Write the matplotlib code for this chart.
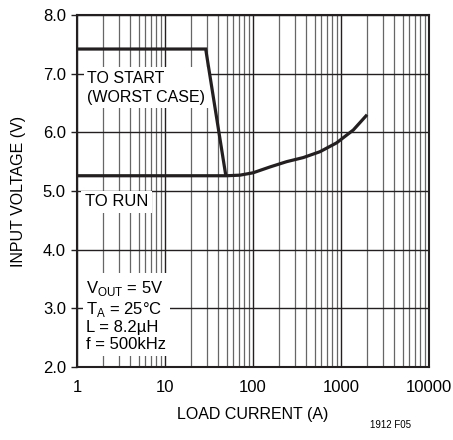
import matplotlib
matplotlib.use("Agg")
import matplotlib.pyplot as plt

plt.rcParams['font.family'] = ['Liberation Sans', 'DejaVu Sans']
plt.rcParams['mathtext.fontset'] = 'custom'
plt.rcParams['mathtext.rm'] = 'Liberation Sans'

# Data
start_x = [1, 29, 49]
start_y = [7.42, 7.42, 5.27]
run_x = [1, 50, 71, 100, 156, 241, 373, 577, 890, 1380, 1923]
run_y = [5.26, 5.26, 5.27, 5.31, 5.41, 5.50, 5.57, 5.67, 5.82, 6.04, 6.28]

fig = plt.figure(figsize=(4.53, 4.40), dpi=100)
ax = fig.add_axes([77/453, 1-367/440, (429-77)/453, (367-15)/440])
ax.set_xscale('log')
ax.set_xlim(1, 10000)
ax.set_ylim(2.0, 8.0)

ax.grid(True, which='major', color='#231f20', lw=1.0)
ax.grid(True, which='minor', axis='x', color='#666666', lw=0.9)
ax.set_axisbelow(True)

ax.plot(start_x, start_y, color='#231f20', lw=2.3, solid_joinstyle='miter', zorder=3)
ax.plot(run_x, run_y, color='#231f20', lw=2.3, zorder=3)

ax.set_yticks([2, 3, 4, 5, 6, 7, 8])
ax.set_yticklabels(['2.0', '3.0', '4.0', '5.0', '6.0', '7.0', '8.0'])
ax.set_xticks([1, 10, 100, 1000, 10000])
ax.set_xticklabels(['1', '10', '100', '1000', '10000'])
ax.tick_params(axis='both', which='major', labelsize=12, length=4, width=1, color='#231f20')
ax.tick_params(axis='x', which='both', length=0, pad=9)
ax.tick_params(axis='y', pad=4)
for s in ax.spines.values():
    s.set_linewidth(1.5)
    s.set_color('#231f20')

ax.set_xlabel('LOAD CURRENT (A)', fontsize=11.5, labelpad=9)
ax.set_ylabel('INPUT VOLTAGE (V)', fontsize=11.5)
ax.yaxis.set_label_coords(-(77-26)/352, 0.5)

bb = dict(facecolor='white', edgecolor='none', pad=2.5)
ax.text(1.3, 6.76, 'TO START\n(WORST CASE)', fontsize=11.5, ha='left', va='center',
        linespacing=1.3, bbox=bb, zorder=2)
ax.text(1.23, 4.82, 'TO RUN', fontsize=12, ha='left', va='center', bbox=bb, zorder=2)
ax.text(1.27, 2.88, 'V$_{\\mathregular{OUT}}$ = 5V\nT$_{\\mathregular{A}}$ = 25°C\nL = 8.2µH\nf = 500kHz',
        fontsize=12, ha='left', va='center', linespacing=1.15, bbox=bb, zorder=2)

fig.text(390/453, 1-425/440, '1912 F05', fontsize=7, ha='center', va='center')

fig.savefig('out.png', dpi=100)
